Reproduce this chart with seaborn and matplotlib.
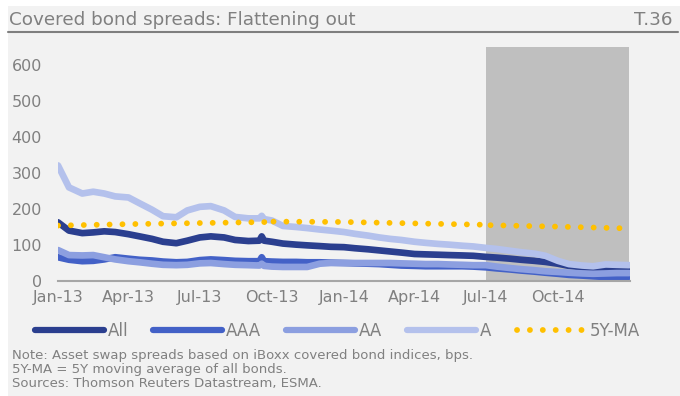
import pandas as pd
import numpy as np
import matplotlib
matplotlib.use("Agg")
import matplotlib.pyplot as plt
import matplotlib.dates as mdates
from matplotlib.lines import Line2D
from matplotlib.patches import Rectangle
import seaborn as sns

# semi-monthly readings (bps), with a couple of extra points for the Sep-13 blip
dates = ["2013-01-01", "2013-01-15", "2013-02-01", "2013-02-15", "2013-03-01", "2013-03-15",
         "2013-04-01", "2013-04-15", "2013-05-01", "2013-05-15", "2013-06-01", "2013-06-15",
         "2013-07-01", "2013-07-15", "2013-08-01", "2013-08-15", "2013-09-01", "2013-09-15",
         "2013-09-18", "2013-09-21", "2013-10-01", "2013-10-15", "2013-11-01", "2013-11-15",
         "2013-12-01", "2013-12-15",
         "2014-01-01", "2014-01-15", "2014-02-01", "2014-02-15", "2014-03-01", "2014-03-15",
         "2014-04-01", "2014-04-15", "2014-05-01", "2014-05-15", "2014-06-01", "2014-06-15",
         "2014-07-01", "2014-07-15", "2014-08-01", "2014-08-15", "2014-09-01", "2014-09-15",
         "2014-10-01", "2014-10-15", "2014-11-01", "2014-11-15", "2014-12-01", "2014-12-15",
         "2014-12-31"]

all_bonds = [163, 140, 133, 135, 138, 136, 130, 124, 117, 109, 105, 112, 121, 124, 121, 114, 111, 112,
             124, 112, 109, 104, 101, 99, 97, 95,
             94, 91, 88, 85, 82, 79, 75, 74, 73, 72, 71, 70, 67, 65, 62, 59, 56, 53, 48, 42, 38, 36,
             34, 33, 31]
aaa = [66, 59, 55, 56, 60, 66, 62, 59, 57, 54, 52, 53, 58, 60, 58, 56, 55, 55,
       66, 55, 54, 53, 53, 52, 52, 51,
       50, 49, 48, 47, 45, 43, 42, 41, 41, 41, 41, 40, 38, 35, 32, 29, 26, 23, 20, 17, 15, 13,
       11, 12, 12]
aa = [86, 72, 71, 72, 66, 60, 55, 52, 48, 45, 44, 45, 49, 50, 47, 45, 44, 43,
      48, 42, 40, 39, 39, 39, 48, 50,
      50, 50, 50, 50, 50, 49, 48, 47, 47, 46, 45, 44, 44, 40, 36, 33, 30, 27, 25, 23, 21, 20,
      21, 22, 22]
a_rated = [321, 260, 243, 248, 243, 235, 232, 216, 198, 180, 177, 196, 206, 208, 196, 178, 174, 174,
           181, 172, 168, 153, 150, 147, 143, 140,
           136, 131, 126, 121, 117, 114, 109, 106, 103, 101, 98, 96, 92, 89, 84, 80, 76, 70, 56, 47,
           43, 41, 46, 45, 44]

# 5Y moving average, drawn in three pieces like the original
ma_dates = ["2013-01-01", "2013-04-01", "2013-07-01", "2013-10-01",
            "2013-10-03", "2014-01-01", "2014-04-01", "2014-07-05",
            "2014-07-07", "2014-10-01", "2014-12-31"]
ma_values = [154, 158, 161, 164,
             165, 164, 160, 156,
             155, 151, 146]
ma_piece = [1, 1, 1, 1, 2, 2, 2, 2, 3, 3, 3]

series_names = ["All", "AAA", "AA", "A"]
series_colors = ["#2b3f8f", "#4361c7", "#8c9fe0", "#b4c1ec"]
ma_color = "#ffc000"

shade_start = "2014-07-01"
shade_end = "2014-12-31"
tick_dates = ["2013-01-01", "2013-04-01", "2013-07-01", "2013-10-01",
              "2014-01-01", "2014-04-01", "2014-07-01", "2014-10-01"]

notes = ["Note: Asset swap spreads based on iBoxx covered bond indices, bps.",
         "5Y-MA = 5Y moving average of all bonds.",
         "Sources: Thomson Reuters Datastream, ESMA."]

bg = "#f2f2f2"
grey_text = "#808080"
dot_style = (0, (0.01, 2.2))

df = pd.DataFrame({"date": pd.to_datetime(dates), "All": all_bonds, "AAA": aaa,
                   "AA": aa, "A": a_rated})
long_df = df.melt(id_vars="date", var_name="series", value_name="spread")
ma_df = pd.DataFrame({"date": pd.to_datetime(ma_dates), "spread": ma_values, "piece": ma_piece})

sns.set_style("white")
plt.rcParams["font.family"] = ["DejaVu Sans"]

W, H = 680, 396
fig = plt.figure(figsize=(W / 100, H / 100), dpi=100, facecolor=bg)
ax = fig.add_axes([58 / W, 1 - 281 / H, 572 / W, 234 / H])
ax.set_facecolor(bg)

ax.axvspan(pd.Timestamp(shade_start), pd.Timestamp(shade_end), color="#bfbfbf", lw=0, zorder=0.5)

sns.lineplot(data=long_df, x="date", y="spread", hue="series", hue_order=series_names,
             palette=series_colors, linewidth=4.8, errorbar=None, legend=False, ax=ax, zorder=2)

for piece, grp in ma_df.groupby("piece"):
    sns.lineplot(data=grp, x="date", y="spread", color=ma_color, linewidth=4.2,
                 linestyle=dot_style, dash_capstyle="round",
                 errorbar=None, legend=False, ax=ax, zorder=3)

ax.set_xlim(pd.Timestamp("2013-01-01"), pd.Timestamp("2015-01-01"))
ax.set_ylim(0, 650)
ax.set_yticks(range(0, 700, 100))
ax.set_xticks(pd.to_datetime(tick_dates))
ax.xaxis.set_major_formatter(mdates.DateFormatter("%b-%y"))
ax.set_xlabel("")
ax.set_ylabel("")
ax.tick_params(axis="x", length=0, pad=6.5, labelsize=11.5, labelcolor=grey_text)
ax.tick_params(axis="y", length=0, pad=11.5, labelsize=11.5, labelcolor=grey_text)
for side in ["left", "right", "top"]:
    ax.spines[side].set_visible(False)
ax.spines["bottom"].set_color("#a6a6a6")
ax.spines["bottom"].set_linewidth(1.5)
ax.spines["bottom"].set_zorder(4)

# legend
handles = [Line2D([], [], color=c, lw=4.5, solid_capstyle="round") for c in series_colors]
handles.append(Line2D([], [], color=ma_color, lw=4.2, linestyle=dot_style,
                      dash_capstyle="round"))
fig.legend(handles, series_names + ["5Y-MA"], loc="center left",
           bbox_to_anchor=(35 / W, 1 - 331 / H), ncol=5, frameon=False, fontsize=12,
           labelcolor=grey_text, handlelength=4.13, handletextpad=0.24, columnspacing=1.5,
           borderpad=0, borderaxespad=0)

# header band
fig.patches.append(Rectangle((0, 0), 8 / W, 1, transform=fig.transFigure,
                             facecolor="white", lw=0, zorder=-1))
fig.patches.append(Rectangle((0, 1 - 6 / H), 1, 6 / H, transform=fig.transFigure,
                             facecolor="white", lw=0, zorder=-1))
fig.text(9 / W, 1 - 25 / H, "Covered bond spreads: Flattening out", fontsize=13.2,
         color=grey_text, va="baseline", ha="left")
fig.text(673 / W, 1 - 25 / H, "T.36", fontsize=13.2, color=grey_text, va="baseline", ha="right")
fig.lines.append(Line2D([8 / W, 678 / W], [1 - 32 / H, 1 - 32 / H], transform=fig.transFigure,
                        color="#7f7f7f", lw=1.5))

for i, line in enumerate(notes):
    fig.text(12 / W, 1 - (356 + 14 * i) / H, line, fontsize=9.5, color=grey_text,
             va="center", ha="left")

fig.savefig("out.png", dpi=100, facecolor=bg)
